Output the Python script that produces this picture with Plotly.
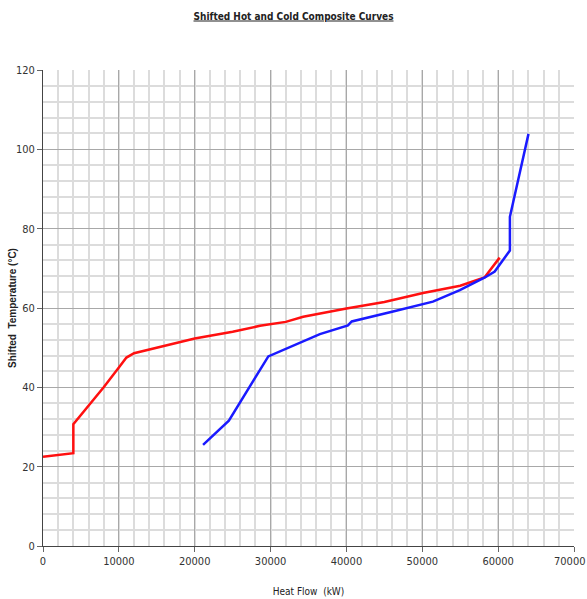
import plotly.graph_objects as go

# Hot composite curve (shifted)
hot_q = [0, 4000, 4000, 8000, 10000, 11000, 12000, 16000, 20000, 25000, 28600, 32000,
         34300, 40000, 45000, 50100, 55000, 58200, 60200]
hot_t = [22.5, 23.4, 30.7, 40.0, 45.0, 47.5, 48.6, 50.5, 52.3, 54.0, 55.5, 56.5,
         57.8, 59.9, 61.5, 63.8, 65.6, 67.7, 72.7]

# Cold composite curve (shifted)
cold_q = [21100, 24500, 29700, 36500, 40200, 40700, 46150, 51400, 54950, 58250, 59550,
          61550, 61550, 64000]
cold_t = [25.5, 31.6, 47.8, 53.4, 55.6, 56.6, 59.1, 61.6, 64.5, 67.7, 69.2,
          74.5, 83.0, 103.9]

x_tick_vals = [0, 10000, 20000, 30000, 40000, 50000, 60000, 70000]
x_tick_text = ["0", "10000", "20000", "30000", "40000", "50000", "60000", "70000"]

FONT = "DejaVu Sans Condensed, Liberation Sans Narrow, Arial Narrow, sans-serif"
TICKFONT = dict(family=FONT, size=11, color="#333")

fig = go.Figure()
fig.add_trace(go.Scatter(x=hot_q, y=hot_t, mode="lines",
                         line=dict(color="#ff1010", width=2.5), name="Hot"))
fig.add_trace(go.Scatter(x=cold_q, y=cold_t, mode="lines",
                         line=dict(color="#1a1aff", width=2.5), name="Cold"))

fig.update_layout(
    width=587, height=599,
    margin=dict(l=43, r=13, t=70, b=53, autoexpand=False),
    paper_bgcolor="white", plot_bgcolor="white",
    showlegend=False,
    title=dict(text="<b>Shifted Hot and Cold Composite Curves</b>",
               x=0.5, xanchor="center", y=1 - 16 / 599, yanchor="middle",
               font=dict(family=FONT, size=10, color="#222", lineposition="under")),
    font=dict(family=FONT, size=11, color="#333"),
)
# last tick label right-aligned at the figure edge so it is not clipped
fig.add_annotation(x=x_tick_vals[-1], y=0, xref="x", yref="y",
                   text=x_tick_text[-1], showarrow=False,
                   xanchor="right", yanchor="top", xshift=13, yshift=-7,
                   font=TICKFONT)
# y-axis title
fig.add_annotation(x=0, y=0.5, xref="paper", yref="paper",
                   text="<b>Shifted  Temperature (°C)</b>", textangle=-90,
                   showarrow=False, xanchor="center", yanchor="middle", xshift=-31,
                   font=dict(family="Liberation Sans, Arial, sans-serif", size=10, color="#222"))
fig.update_xaxes(
    range=[0, 70000], tickvals=x_tick_vals,
    ticktext=x_tick_text[:-1] + [""], automargin=False,
    showgrid=True, gridcolor="#a8a8a8", gridwidth=1,
    minor=dict(dtick=2000, showgrid=True, gridcolor="#dcdcdc", gridwidth=1.5),
    showline=True, linecolor="#444", linewidth=1,
    ticks="outside", ticklen=5, tickcolor="#666",
    zeroline=False, mirror=False,
    title=dict(text="Heat Flow  (kW)", font=dict(family=FONT, size=10, color="#222"), standoff=20),
    tickfont=TICKFONT,
)
fig.update_yaxes(
    range=[0, 120], dtick=20, automargin=False,
    showgrid=True, gridcolor="#a8a8a8", gridwidth=1,
    minor=dict(dtick=4, showgrid=True, gridcolor="#dcdcdc", gridwidth=1.5),
    showline=True, linecolor="#444", linewidth=1,
    ticks="outside", ticklen=5, tickcolor="#666",
    zeroline=False,
    tickfont=TICKFONT,
)
fig.write_html("out.html", config={"displayModeBar": False},
               post_script="document.body.style.margin='0';document.body.style.overflow='hidden';")
